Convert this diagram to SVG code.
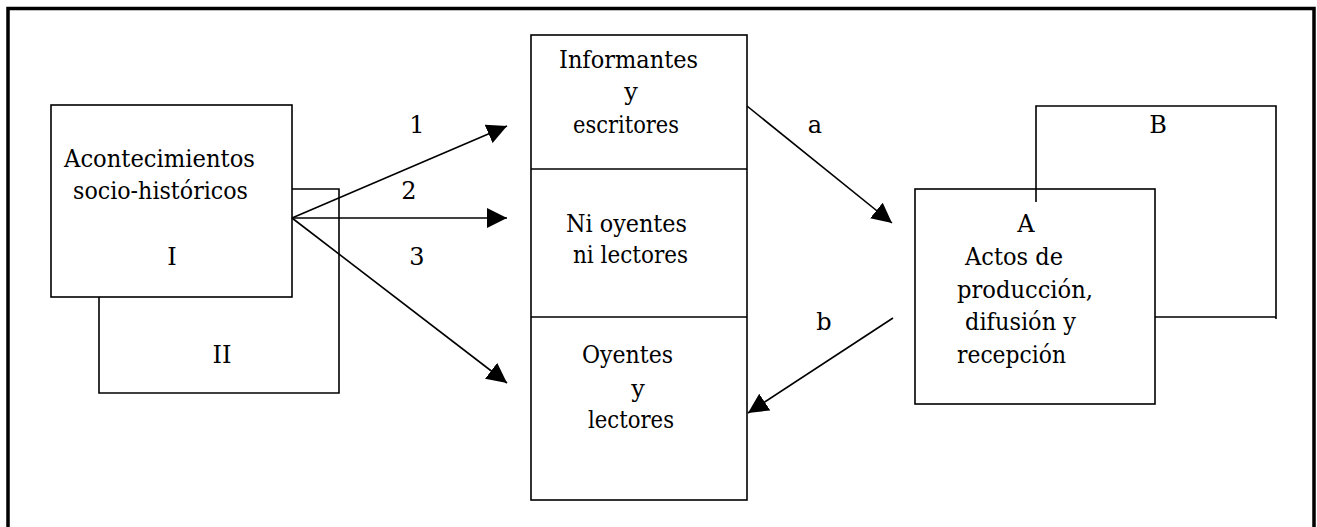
<svg xmlns="http://www.w3.org/2000/svg" width="1317" height="527" viewBox="0 0 1317 527">
<defs>
<style>
.box{fill:#fff;stroke:#000;stroke-width:1.6}
.ln{fill:none;stroke:#000;stroke-width:1.6}
.t{font-size:24px;fill:#000}
.c{text-anchor:middle}
</style>
<marker id="ah" markerUnits="userSpaceOnUse" markerWidth="20" markerHeight="20" refX="20" refY="10" orient="auto" viewBox="0 0 20 20">
<path d="M0,0 L20,10 L0,20 z" fill="#000"/>
</marker>
</defs>
<rect x="0" y="0" width="1317" height="527" fill="#fff"/>
<rect x="8" y="8.5" width="1306" height="540" fill="none" stroke="#000" stroke-width="3.5"/>
<g font-family="'DejaVu Serif', 'Liberation Serif', serif">
<g id="node-II">
<path class="ln" d="M292,189 H339 V393 H99 V297"/>
<text class="t c" x="222" y="363">II</text>
</g>
<g id="node-I">
<rect class="box" x="51" y="105" width="241" height="192"/>
<text class="t" x="64" y="167" textLength="191" lengthAdjust="spacingAndGlyphs">Acontecimientos</text>
<text class="t" x="73" y="199" textLength="175" lengthAdjust="spacingAndGlyphs">socio-históricos</text>
<text class="t c" x="172" y="265">I</text>
</g>

<g id="node-middle">
<rect class="box" x="531" y="35" width="216" height="465"/>
<line class="ln" x1="531" y1="169" x2="747" y2="169"/>
<line class="ln" x1="531" y1="317" x2="747" y2="317"/>
<text class="t" x="559" y="68" textLength="139" lengthAdjust="spacingAndGlyphs">Informantes</text>
<text class="t c" x="631" y="100">y</text>
<text class="t" x="573" y="133" textLength="106" lengthAdjust="spacingAndGlyphs">escritores</text>
<text class="t" x="566" y="232" textLength="121" lengthAdjust="spacingAndGlyphs">Ni oyentes</text>
<text class="t" x="573" y="263" textLength="115" lengthAdjust="spacingAndGlyphs">ni lectores</text>
<text class="t" x="582" y="363" textLength="91" lengthAdjust="spacingAndGlyphs">Oyentes</text>
<text class="t c" x="638" y="397">y</text>
<text class="t" x="588" y="428" textLength="86" lengthAdjust="spacingAndGlyphs">lectores</text>
</g>

<g id="node-B">
<path class="ln" d="M1036,202 V106 H1276 V319 M1155,317 H1276"/>
<text class="t c" x="1158" y="133">B</text>
</g>
<g id="node-A">
<rect class="ln" x="915" y="189" width="240" height="215"/>
<text class="t c" x="1026" y="232">A</text>
<text class="t" x="965" y="265" textLength="98" lengthAdjust="spacingAndGlyphs">Actos de</text>
<text class="t" x="957" y="298" textLength="136" lengthAdjust="spacingAndGlyphs">producción,</text>
<text class="t" x="965" y="330" textLength="111" lengthAdjust="spacingAndGlyphs">difusión y</text>
<text class="t" x="957" y="363" textLength="109" lengthAdjust="spacingAndGlyphs">recepción</text>
</g>

<g id="connectors">
<line class="ln" x1="292" y1="218" x2="507" y2="126" marker-end="url(#ah)"/>
<line class="ln" x1="292" y1="218" x2="507" y2="218" marker-end="url(#ah)"/>
<line class="ln" x1="292" y1="218" x2="507" y2="383" marker-end="url(#ah)"/>
<line class="ln" x1="747" y1="106" x2="892" y2="223" marker-end="url(#ah)"/>
<line class="ln" x1="893" y1="318" x2="748" y2="413" marker-end="url(#ah)"/>
<text class="t c" x="417" y="133">1</text>
<text class="t c" x="409" y="199">2</text>
<text class="t c" x="417" y="265">3</text>
<text class="t c" x="815" y="133">a</text>
<text class="t c" x="824" y="330">b</text>
</g>
</g>
</svg>
